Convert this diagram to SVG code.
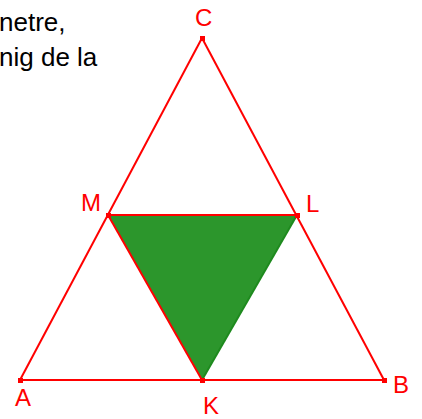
<svg xmlns="http://www.w3.org/2000/svg" width="422" height="419" viewBox="0 0 422 419">
<style>
.seg{stroke:#ff0000;stroke-width:2;fill:none}
.pt{fill:#ff0000}
.lbl{font-family:"Liberation Sans",Arial,sans-serif;font-size:24px;fill:#ff0000}
.txt{font-family:"Liberation Sans",Arial,sans-serif;font-size:26px;fill:#000000}
</style>
<rect width="422" height="419" fill="#ffffff"/>
<g id="text">
<text class="txt" x="-1" y="31">netre,</text>
<text class="txt" x="-1" y="66">nig de la</text>
</g>
<g id="shading">
<polygon points="108,215 297,215 202,380" fill="#2c962c"/>
</g>
<g id="connectors">
<line class="seg" x1="20" y1="380" x2="384" y2="380"/>
<line class="seg" x1="20" y1="380" x2="202" y2="38"/>
<line class="seg" x1="384" y1="380" x2="202" y2="38"/>
<line class="seg" x1="108" y1="215" x2="297" y2="215"/>
<line class="seg" x1="108" y1="215" x2="202" y2="380"/>
<line x1="297" y1="215" x2="202" y2="380" stroke="#1e8a1e" stroke-width="2"/>
</g>
<g id="A"><rect class="pt" x="18" y="378" width="5" height="5"/><text class="lbl" x="15" y="406">A</text></g>
<g id="B"><rect class="pt" x="382" y="378" width="5" height="5"/><text class="lbl" x="393" y="393">B</text></g>
<g id="C"><rect class="pt" x="200" y="36" width="5" height="5"/><text class="lbl" x="195" y="26">C</text></g>
<g id="K"><rect class="pt" x="200" y="378" width="5" height="5"/><text class="lbl" x="203" y="414">K</text></g>
<g id="L"><rect class="pt" x="295" y="213" width="5" height="5"/><text class="lbl" x="306" y="212">L</text></g>
<g id="M"><rect class="pt" x="106" y="213" width="5" height="5"/><text class="lbl" x="81" y="211">M</text></g>
</svg>
